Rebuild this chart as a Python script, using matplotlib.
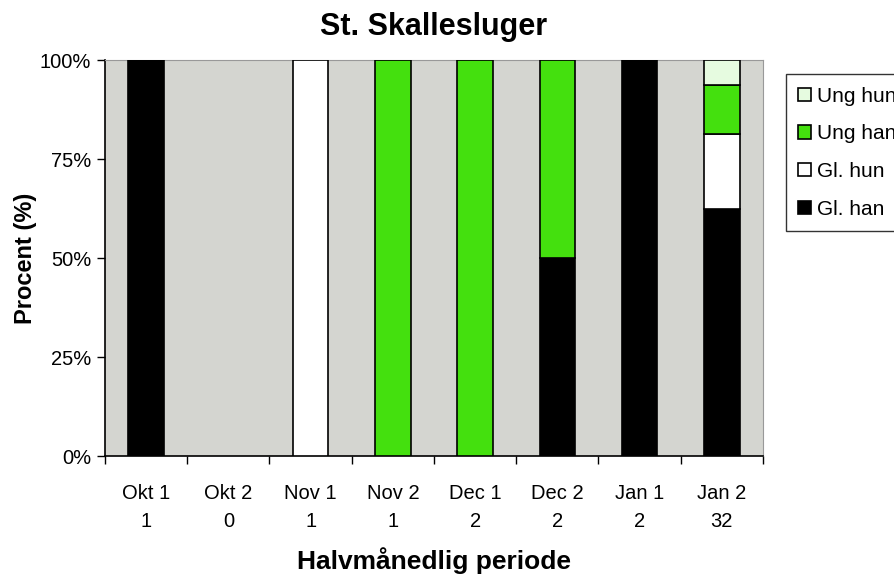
import numpy as np
import matplotlib.pyplot as plt
from matplotlib.ticker import PercentFormatter

# Data: counts per half-month period
periods = ["Okt 1", "Okt 2", "Nov 1", "Nov 2", "Dec 1", "Dec 2", "Jan 1", "Jan 2"]
totals = [1, 0, 1, 1, 2, 2, 2, 32]
gl_han = [1, 0, 0, 0, 0, 1, 2, 20]
gl_hun = [0, 0, 1, 0, 0, 0, 0, 6]
ung_han = [0, 0, 0, 1, 2, 1, 0, 4]
ung_hun = [0, 0, 0, 0, 0, 0, 0, 2]

series = [("Gl. han", gl_han, "#000000"),
          ("Gl. hun", gl_hun, "#FFFFFF"),
          ("Ung han", ung_han, "#44E00E"),
          ("Ung hun", ung_hun, "#E6FBE0")]

plt.rcParams['font.family'] = ['Liberation Sans', 'DejaVu Sans']

fig = plt.figure(figsize=(8.95, 5.76), dpi=100)
ax = fig.add_axes([0.1173, 0.2083, 0.7352, 0.6875])
ax.set_facecolor("#D4D5D0")

x = np.arange(len(periods))
tot = np.array(totals, dtype=float)
safe = np.where(tot > 0, tot, 1)
bottom = np.zeros(len(periods))
for name, vals, col in series:
    frac = np.array(vals) / safe * 100
    m = frac > 0
    ax.bar(x[m], frac[m], 0.43, bottom=bottom[m], color=col, edgecolor="black",
           linewidth=1.2, label=name, zorder=3)
    bottom += frac

ax.set_xlim(-0.5, len(periods) - 0.5)
ax.set_ylim(0, 100)
ax.set_yticks([0, 25, 50, 75, 100])
ax.yaxis.set_major_formatter(PercentFormatter(decimals=0))
ax.set_xticks(x)
ax.set_xticklabels(["%s\n%d" % (p, t) for p, t in zip(periods, totals)],
                   linespacing=1.6)
ax.set_xticks(np.arange(len(periods) + 1) - 0.5, minor=True)
ax.tick_params(axis="x", which="major", length=0, pad=20, labelsize=14.5)
ax.tick_params(axis="x", which="minor", length=6, width=1, direction="out")
ax.tick_params(axis="y", length=6, width=1, direction="out", labelsize=14.5, pad=4)

for s in ["top", "right"]:
    ax.spines[s].set_color("#999999")
for s in ["left", "bottom"]:
    ax.spines[s].set_color("black")
    ax.spines[s].set_linewidth(1.2)

ax.set_title("St. Skallesluger", fontsize=22, fontweight="bold", pad=18)
ax.set_ylabel("Procent (%)", fontsize=17, fontweight="bold", labelpad=2)
ax.set_xlabel("Halvmånedlig periode", fontsize=19, fontweight="bold", labelpad=12)

h, l = ax.get_legend_handles_labels()
leg = fig.legend(h[::-1], l[::-1], loc="upper left",
                 bbox_to_anchor=(0.878, 0.8715), borderaxespad=0, fontsize=15,
                 frameon=True, fancybox=False, edgecolor="black",
                 handlelength=0.6, handleheight=0.6, handletextpad=0.3,
                 labelspacing=0.9, borderpad=0.6)
leg.get_frame().set_linewidth(1.0)

fig.savefig("out.png", dpi=100)
